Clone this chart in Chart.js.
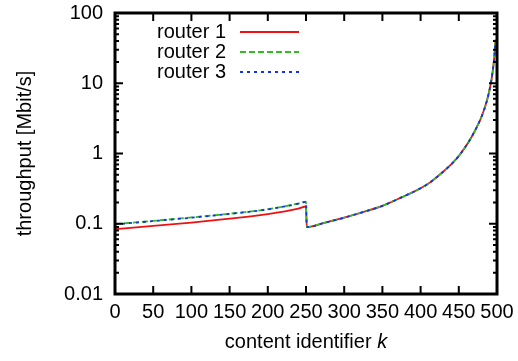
<!DOCTYPE html>
<html>
<head>
<meta charset="utf-8">
<script src="https://cdn.jsdelivr.net/npm/chart.js@4"></script>
<style>
  body { margin: 0; background: #fff; }
</style>
</head>
<body>
<canvas id="myChart" width="518" height="361"></canvas>
<script>
// values
var contentIds = [0, 50, 100, 150, 200, 240, 250, 251, 275, 300, 325, 350, 375, 400, 412, 425, 440, 450, 462, 470, 480, 487, 492, 494, 496, 497, 498];
var router1 = [0.084, 0.093, 0.104, 0.118, 0.137, 0.164, 0.176, 0.09, 0.104, 0.122, 0.147, 0.18, 0.237, 0.32, 0.385, 0.5, 0.70, 0.923, 1.41, 2.0, 3.39, 5.75, 10, 13.8, 20.9, 28.2, 41.7];
var router2 = [0.099, 0.110, 0.123, 0.139, 0.161, 0.194, 0.206, 0.09, 0.104, 0.122, 0.147, 0.18, 0.237, 0.32, 0.385, 0.5, 0.70, 0.923, 1.41, 2.0, 3.39, 5.75, 10, 13.8, 20.9, 28.2, 41.7];
var router3 = [0.098, 0.109, 0.122, 0.138, 0.160, 0.193, 0.205, 0.09, 0.104, 0.122, 0.147, 0.18, 0.237, 0.32, 0.385, 0.5, 0.70, 0.923, 1.41, 2.0, 3.39, 5.75, 10, 13.8, 20.9, 28.2, 41.7];
var yTicks = [0.01, 0.1, 1, 10, 100];
var yTickLabels = ["0.01", "0.1", "1", "10", "100"];
var seriesNames = ["router 1", "router 2", "router 3"];

var FONT = "'Liberation Sans', Arial, Helvetica, sans-serif";

function points(ys) {
  return contentIds.map(function (k, i) { return {x: k, y: ys[i]}; });
}

// gnuplot-like frame: border, inward ticks on all sides, legend, x title
var framePlugin = {
  id: "frame",
  afterDatasetsDraw: function (chart) {
    var ctx = chart.ctx, a = chart.chartArea;
    var xs = chart.scales.x, ys = chart.scales.y;
    ctx.save();
    ctx.strokeStyle = "#000";
    ctx.lineWidth = 2;
    ctx.beginPath();
    // x major ticks bottom + top
    for (var k = 0; k <= 500; k += 50) {
      var px = xs.getPixelForValue(k);
      ctx.moveTo(px, a.bottom); ctx.lineTo(px, a.bottom - 8);
      ctx.moveTo(px, a.top); ctx.lineTo(px, a.top + 8);
    }
    // y ticks left + right
    for (var d = 0; d < yTicks.length; d++) {
      var py = ys.getPixelForValue(yTicks[d]);
      ctx.moveTo(a.left, py); ctx.lineTo(a.left + 8, py);
      ctx.moveTo(a.right, py); ctx.lineTo(a.right - 8, py);
      if (d < yTicks.length - 1) {
        for (var m = 2; m <= 9; m++) {
          var pm = ys.getPixelForValue(yTicks[d] * m);
          ctx.moveTo(a.left, pm); ctx.lineTo(a.left + 4, pm);
          ctx.moveTo(a.right, pm); ctx.lineTo(a.right - 4, pm);
        }
      }
    }
    ctx.stroke();
    ctx.lineWidth = 3;
    ctx.strokeRect(a.left, a.top, a.right - a.left, a.bottom - a.top);

    // legend
    ctx.font = "20px " + FONT;
    ctx.textAlign = "right";
    ctx.textBaseline = "middle";
    chart.data.datasets.forEach(function (ds, i) {
      var y = 32 + i * 20;
      ctx.fillStyle = "#000";
      ctx.fillText(ds.label, 226, y);
      ctx.strokeStyle = ds.borderColor;
      ctx.lineWidth = ds.borderWidth;
      ctx.setLineDash(ds.borderDash || []);
      ctx.beginPath();
      ctx.moveTo(240, y); ctx.lineTo(299, y);
      ctx.stroke();
    });
    ctx.setLineDash([]);

    // x axis title with italic k
    var t1 = "content identifier ", t2 = "k";
    ctx.font = "20px " + FONT;
    var w1 = ctx.measureText(t1).width;
    ctx.font = "italic 20px " + FONT;
    var w2 = ctx.measureText(t2).width;
    var x0 = (a.left + a.right) / 2 - (w1 + w2) / 2;
    ctx.textAlign = "left";
    ctx.fillStyle = "#000";
    ctx.font = "20px " + FONT;
    ctx.fillText(t1, x0, 342);
    ctx.font = "italic 20px " + FONT;
    ctx.fillText(t2, x0 + w1, 342);
    ctx.restore();
  }
};

new Chart("myChart", {
  type: "line",
  data: {
    datasets: [{
      label: seriesNames[0],
      data: points(router1),
      borderColor: "#ee1111",
      borderWidth: 1.8,
      order: 2
    }, {
      label: seriesNames[1],
      data: points(router2),
      borderColor: "#33bb22",
      borderWidth: 1.8,
      borderDash: [6, 3],
      order: 1
    }, {
      label: seriesNames[2],
      data: points(router3),
      borderColor: "#1133ee",
      borderWidth: 1.8,
      borderDash: [3, 4],
      order: 0
    }]
  },
  options: {
    responsive: false,
    animation: false,
    elements: {point: {radius: 0}, line: {cubicInterpolationMode: "monotone"}},
    layout: {padding: {top: 13, right: 21, left: 0, bottom: 0}},
    plugins: {legend: {display: false}, tooltip: {enabled: false}},
    scales: {
      x: {
        type: "linear",
        min: 0,
        max: 500,
        grid: {display: false, drawTicks: false},
        border: {display: false},
        ticks: {
          stepSize: 50,
          autoSkip: false,
          maxRotation: 0,
          padding: 6,
          color: "#000",
          font: {family: FONT, size: 20}
        },
        afterFit: function (s) {
          s.height = 67;
          s.paddingLeft = 0; s.paddingRight = 0;
        }
      },
      y: {
        type: "logarithmic",
        min: 0.01,
        max: 100,
        grid: {display: false, drawTicks: false},
        border: {display: false},
        afterBuildTicks: function (s) {
          s.ticks = yTicks.map(function (v) { return {value: v}; });
        },
        ticks: {
          autoSkip: false,
          padding: 12,
          color: "#000",
          font: {family: FONT, size: 20},
          callback: function (v) {
            var i = yTicks.indexOf(v);
            return i >= 0 ? yTickLabels[i] : "";
          }
        },
        title: {
          display: true,
          text: "throughput [Mbit/s]",
          color: "#000",
          font: {family: FONT, size: 20},
          padding: {top: 13, bottom: 0}
        },
        afterFit: function (s) {
          s.width = 115;
          s.paddingTop = 0; s.paddingBottom = 0;
        }
      }
    }
  },
  plugins: [framePlugin]
});
</script>
</body>
</html>
